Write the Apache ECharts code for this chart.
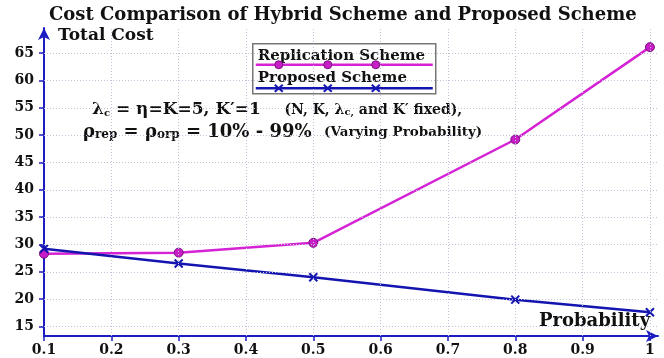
<!DOCTYPE html>
<html>
<head>
<meta charset="utf-8">
<script src="https://cdn.jsdelivr.net/npm/echarts@6/dist/echarts.min.js"></script>
<title>Cost Comparison</title>
<style>
  html, body { margin: 0; padding: 0; background: #fff; }
  #main { width: 664px; height: 358px; }
</style>
</head>
<body>
<div id="main"></div>
<script type="text/javascript">
// data
var probability = [0.1, 0.3, 0.5, 0.8, 1];
var replicationCost = [28.3, 28.5, 30.3, 49.2, 66.1];
var proposedCost = [29.2, 26.5, 24.0, 19.9, 17.6];
var xTicks = [0.1, 0.2, 0.3, 0.4, 0.5, 0.6, 0.7, 0.8, 0.9, 1];
var yTicks = [15, 20, 25, 30, 35, 40, 45, 50, 55, 60, 65];

var serif = 'DejaVu Serif';
var axisBlue = '#1c1cc2';
var magenta = '#d422d4';
var blue = '#1414b0';
var gridColor = '#c2c2d8';
var crossPath = 'path://M0,0L10,10M10,0L0,10';

function pairs(xs, ys) {
    return xs.map(function (x, i) { return [x, ys[i]]; });
}

// dotted grid drawn through the axes
var gridLines = [];
yTicks.forEach(function (v) { gridLines.push({ yAxis: v }); });
xTicks.slice(1).forEach(function (v) { gridLines.push({ xAxis: v }); });

var myChart = echarts.init(document.getElementById('main'));

var option = {
    backgroundColor: '#fff',
    animation: false,
    title: {
        text: 'Cost Comparison of Hybrid Scheme and Proposed Scheme',
        left: 44,
        top: 1,
        textStyle: { fontFamily: serif, fontWeight: 'bold', fontSize: 18, color: '#111' }
    },
    grid: { left: 44, right: 6, top: 28, bottom: 22 },
    xAxis: {
        type: 'value',
        min: 0.1,
        max: 1.012,
        splitLine: { show: false },
        axisLine: { lineStyle: { color: axisBlue, width: 2 }, symbol: ['none', 'arrow'], symbolSize: [9, 12] },
        axisTick: { customValues: xTicks, length: 5, lineStyle: { color: axisBlue, width: 1.5 } },
        axisLabel: {
            customValues: xTicks,
            margin: 7,
            color: '#111',
            fontFamily: serif,
            fontWeight: 'bold',
            fontSize: 14
        }
    },
    yAxis: {
        type: 'value',
        min: 13.25,
        max: 69.6,
        splitLine: { show: false },
        axisLine: { lineStyle: { color: axisBlue, width: 2 }, symbol: ['none', 'arrow'], symbolSize: [9, 12] },
        axisTick: { customValues: yTicks, length: 5, lineStyle: { color: axisBlue, width: 1.5 } },
        axisLabel: {
            customValues: yTicks,
            margin: 10,
            color: '#111',
            fontFamily: serif,
            fontWeight: 'bold',
            fontSize: 14
        }
    },
    series: [
        {
            name: 'grid',
            type: 'line',
            data: [],
            z: 1,
            markLine: {
                silent: true,
                symbol: ['none', 'none'],
                label: { show: false },
                lineStyle: { type: [1, 2], color: gridColor, width: 1 },
                data: gridLines
            }
        },
        {
            name: 'Replication Scheme',
            type: 'line',
            z: 3,
            data: pairs(probability, replicationCost),
            symbol: 'circle',
            symbolSize: 9,
            lineStyle: { color: magenta, width: 2.5 },
            itemStyle: { color: '#c81ec8', borderColor: '#7a1080', borderWidth: 1 }
        },
        {
            name: 'Proposed Scheme',
            type: 'line',
            z: 4,
            data: pairs(probability, proposedCost),
            symbol: crossPath,
            symbolSize: 8,
            lineStyle: { color: blue, width: 2.5 },
            itemStyle: { color: blue, borderColor: blue, borderWidth: 2 }
        }
    ],
    graphic: [
        {
            type: 'text', left: 58, top: 27,
            style: { text: 'Total Cost', font: 'bold 17px "DejaVu Serif"', fill: '#111' }
        },
        {
            type: 'text', left: 539, top: 312,
            style: { text: 'Probability', font: 'bold 18px "DejaVu Serif"', fill: '#111' }
        },
        // legend box
        {
            type: 'group', left: 252, top: 43,
            children: [
                { type: 'rect', shape: { x: 0, y: 0, width: 183, height: 50 },
                  style: { fill: '#fff', stroke: '#777', lineWidth: 1.5 } },
                { type: 'text', x: 5, y: 12,
                  style: { text: 'Replication Scheme', font: 'bold 15px "DejaVu Serif"', fill: '#111', verticalAlign: 'middle' } },
                { type: 'line', shape: { x1: 3, y1: 21, x2: 180, y2: 21 }, style: { stroke: magenta, lineWidth: 2.5 } },
                { type: 'circle', shape: { cx: 26, cy: 21, r: 4 }, style: { fill: '#c81ec8', stroke: '#7a1080', lineWidth: 1 } },
                { type: 'circle', shape: { cx: 75, cy: 21, r: 4 }, style: { fill: '#c81ec8', stroke: '#7a1080', lineWidth: 1 } },
                { type: 'circle', shape: { cx: 123, cy: 21, r: 4 }, style: { fill: '#c81ec8', stroke: '#7a1080', lineWidth: 1 } },
                { type: 'text', x: 5, y: 34,
                  style: { text: 'Proposed Scheme', font: 'bold 15px "DejaVu Serif"', fill: '#111', verticalAlign: 'middle' } },
                { type: 'line', shape: { x1: 3, y1: 44.5, x2: 180, y2: 44.5 }, style: { stroke: blue, lineWidth: 2.5 } },
                { type: 'polyline', shape: { points: [[22, 41], [30, 48]] }, style: { stroke: blue, lineWidth: 2 } },
                { type: 'polyline', shape: { points: [[30, 41], [22, 48]] }, style: { stroke: blue, lineWidth: 2 } },
                { type: 'polyline', shape: { points: [[71, 41], [79, 48]] }, style: { stroke: blue, lineWidth: 2 } },
                { type: 'polyline', shape: { points: [[79, 41], [71, 48]] }, style: { stroke: blue, lineWidth: 2 } },
                { type: 'polyline', shape: { points: [[119, 41], [127, 48]] }, style: { stroke: blue, lineWidth: 2 } },
                { type: 'polyline', shape: { points: [[127, 41], [119, 48]] }, style: { stroke: blue, lineWidth: 2 } }
            ]
        },
        // parameter notes
        {
            type: 'text', x: 92, y: 110,
            style: {
                text: 'λ{sub|c} = η=K=5, K′=1    {s|(N, K, λ}{ss|c,}{s| and K′ fixed),}',
                font: 'bold 17px "DejaVu Serif"', fill: '#111', verticalAlign: 'middle',
                rich: {
                    sub: { font: 'bold 10px "DejaVu Serif"', fill: '#111', padding: [6, 0, 0, 0] },
                    s: { font: 'bold 14px "DejaVu Serif"', fill: '#111' },
                    ss: { font: 'bold 10px "DejaVu Serif"', fill: '#111', padding: [4, 0, 0, 0] }
                }
            }
        },
        {
            type: 'text', x: 83, y: 132,
            style: {
                text: 'ρ{sub|rep} = ρ{sub|orp} = 10% - 99%  {s|(Varying Probability)}',
                font: 'bold 18px "DejaVu Serif"', fill: '#111', verticalAlign: 'middle',
                rich: {
                    sub: { font: 'bold 12px "DejaVu Serif"', fill: '#111', padding: [6, 0, 0, 0] },
                    s: { font: 'bold 13.5px "DejaVu Serif"', fill: '#111' }
                }
            }
        }
    ]
};

myChart.setOption(option);
</script>
</body>
</html>
